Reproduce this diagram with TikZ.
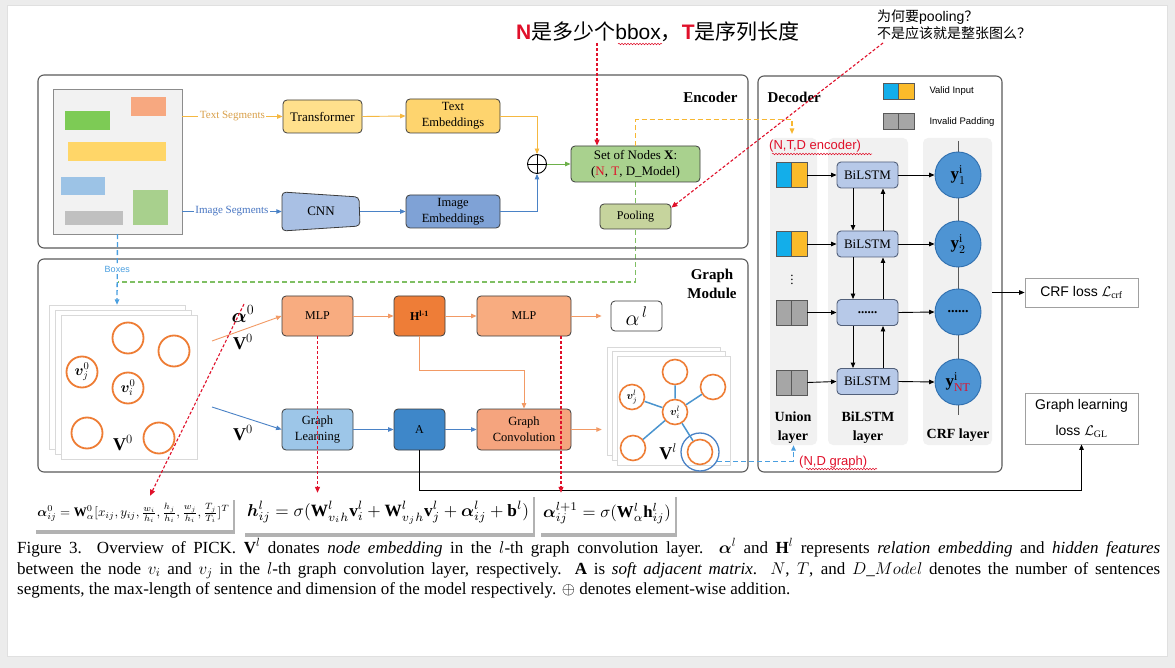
\RequirePackage{fix-cm}
\documentclass[tikz,border=0pt]{standalone}
\usepackage{amsmath,bm}
\usepackage{fontspec}
\setmainfont{Liberation Serif}
\setsansfont{Liberation Sans}
\newfontfamily\cjk{Noto Sans CJK SC}
\usetikzlibrary{arrows.meta,shadows,backgrounds,decorations.pathmorphing}

\definecolor{pageC}{HTML}{ECECEC}
\definecolor{frameC}{HTML}{5A5A5A}
\definecolor{boxB}{HTML}{3C3C3C}
\definecolor{docbg}{HTML}{F2F2F2}
\definecolor{cGreen}{HTML}{7DCB55}
\definecolor{cSalmon}{HTML}{F7A880}
\definecolor{cYellow}{HTML}{FFD668}
\definecolor{cLBlue}{HTML}{9CC3E6}
\definecolor{cGray}{HTML}{C0C0C0}
\definecolor{cLGreen}{HTML}{A8D08D}
\definecolor{transC}{HTML}{FFE08C}
\definecolor{tembC}{HTML}{FED46E}
\definecolor{cnnC}{HTML}{A9C0E4}
\definecolor{iembC}{HTML}{7FA2D6}
\definecolor{setC}{HTML}{A9D18E}
\definecolor{poolC}{HTML}{C6D49D}
\definecolor{lineY}{HTML}{F5B841}
\definecolor{lineB}{HTML}{4A82C6}
\definecolor{lineG}{HTML}{6DB04A}
\definecolor{txtY}{HTML}{D9A04A}
\definecolor{txtB}{HTML}{4775C2}
\definecolor{orC}{HTML}{EE7D35}
\definecolor{orL}{HTML}{F29A65}
\definecolor{mlpC}{HTML}{F8AC80}
\definecolor{hC}{HTML}{EE7D37}
\definecolor{glC}{HTML}{9DC6E8}
\definecolor{aC}{HTML}{3E87C9}
\definecolor{gcC}{HTML}{F5A47E}
\definecolor{gline}{HTML}{4B95CF}
\definecolor{cDashB}{HTML}{4A9FE0}
\definecolor{cDashG}{HTML}{7FBF63}
\definecolor{cDashY}{HTML}{F7B731}
\definecolor{annRed}{HTML}{E0102A}
\definecolor{cyanC}{HTML}{13AEEA}
\definecolor{ambC}{HTML}{FBBB2A}
\definecolor{padC}{HTML}{A6A6A6}
\definecolor{lstmC}{HTML}{B7C9E8}
\definecolor{lstmB}{HTML}{52607A}
\definecolor{colbgC}{HTML}{F1F1F1}
\definecolor{crfC}{HTML}{4E94D3}
\definecolor{crfB}{HTML}{2F6FAF}
\definecolor{lossB}{HTML}{A0A0A0}

\tikzset{
 frame/.style={draw=frameC, line width=1.1pt, rounded corners=6pt, inner sep=0pt},
 bx/.style={draw=boxB, line width=0.8pt, rounded corners=4pt, inner sep=0pt, align=center, font=\fontsize{12.5}{16}\selectfont},
 ocirc/.style={circle, draw=orC, line width=1.8pt, fill=white, minimum size=31pt, inner sep=0pt, font=\fontsize{15}{17}\selectfont},
 scirc/.style={circle, draw=orC, line width=1.6pt, fill=white, minimum size=25pt, inner sep=0pt, font=\fontsize{11}{12}\selectfont},
 sheet/.style={draw=black!15, fill=white, inner sep=0pt},
 half/.style={draw=black!65, line width=0.7pt, inner sep=0pt, minimum width=15.5pt},
 lstm/.style={draw=lstmB, line width=0.9pt, fill=lstmC, rounded corners=4pt, minimum width=61pt, minimum height=26pt, inner sep=0pt, font=\fontsize{13}{15}\selectfont},
 crfc/.style={circle, fill=crfC, draw=crfB, line width=0.9pt, minimum size=46pt, inner sep=0pt, font=\fontsize{17}{19}\selectfont},
 loss/.style={draw=lossB, line width=0.8pt, fill=white, inner sep=0pt, align=center},
 colbg/.style={fill=colbgC, rounded corners=5pt, inner sep=0pt, minimum height=307pt},
 redarrow/.style={draw=annRed, line width=1.1pt, dash pattern=on 3pt off 2pt, -{Triangle[length=6pt,width=5pt]}},
 arr/.style={-{Triangle[length=5.5pt,width=4.5pt]}, line width=0.9pt},
 dashln/.style={line width=1.3pt, dash pattern=on 5pt off 3pt},
 fmbox/.style={fill=white, inner sep=0pt, drop shadow={shadow xshift=1.5pt, shadow yshift=-4pt, opacity=0.3, fill=black}},
 squig/.style={draw=annRed, line width=0.5pt, decorate, decoration={snake, amplitude=0.8pt, segment length=3pt}},
 captxt/.style={anchor=base west, inner sep=0pt, font=\fontsize{17}{21}\selectfont},
}

\begin{document}
\begin{tikzpicture}[x=1pt,y=-1pt]
\useasboundingbox (0,0) rectangle (1175,668);
\begin{scope}[on background layer]
\fill[pageC] (0,0) rectangle (1175,668);
\fill[white] (7,5) rectangle (1167,656);
\draw[black!12] (7,5) rectangle (1167,656);
\end{scope}

% ---------- frames ----------
\node[frame, minimum width=710pt, minimum height=173pt] (enc) at (393,161.5) {};
\node[font=\bfseries\fontsize{15}{17}\selectfont, anchor=east] (enclab) at (741,97) {Encoder};
\node[frame, minimum width=710pt, minimum height=213pt] (gm) at (393,365.5) {};
\node[font=\bfseries\fontsize{15}{19}\selectfont, align=center] (gmlab) at (712,283.5) {Graph\\Module};
\node[frame, minimum width=244pt, minimum height=396pt] (dec) at (880,274) {};
\node[font=\bfseries\fontsize{15}{17}\selectfont, anchor=west] (declab) at (764,97) {Decoder};

% ---------- encoder ----------
\node[draw=black!45, fill=docbg, minimum width=129pt, minimum height=145pt, inner sep=0pt] (doc) at (117.5,161.5) {};
\fill[cGreen] (65,111) rectangle (110,130);
\fill[cSalmon] (131,97) rectangle (166,116);
\fill[cYellow] (68,142) rectangle (166,161);
\fill[cLBlue] (61,177) rectangle (105,195);
\fill[cGray] (65,211) rectangle (123,225);
\fill[cLGreen] (133,190) rectangle (168,225);

\node[bx, fill=transC, minimum width=79pt, minimum height=33pt, font=\fontsize{13}{15}\selectfont] (tr) at (322.5,116.5) {Transformer};
\node[bx, fill=tembC, minimum width=94pt, minimum height=34pt] (tem) at (453,116) {Text\\Embeddings};
\filldraw[fill=cnnC, draw=boxB, line width=0.8pt, rounded corners=4pt] (282,192) -- (359,197) -- (360,226) -- (282,231) -- cycle;
\node[inner sep=0pt, minimum width=78pt, minimum height=39pt, font=\fontsize{13}{15}\selectfont] (cnn) at (321,211.5) {CNN};
\node[bx, fill=iembC, minimum width=94pt, minimum height=33pt] (iem) at (453,211.5) {Image\\Embeddings};
\node[circle, draw=black, line width=0.9pt, minimum size=19pt, inner sep=0pt] (plus) at (537,164) {};
\draw[line width=0.9pt] (plus.north) -- (plus.south) (plus.west) -- (plus.east);
\node[bx, fill=setC, minimum width=129pt, minimum height=36pt, font=\fontsize{13}{16}\selectfont] (setn) at (635.5,164) {Set of Nodes \textbf{X}:\\(\textcolor{annRed}{N}, \textcolor{annRed}{T}, D\_Model)};
\coordinate (gend) at (118,282);
\begin{scope}[on background layer]
\draw[dashln, draw=cDashG] (setn.south) |- (gend);
\end{scope}
\node[bx, fill=poolC, minimum width=71pt, minimum height=25pt, font=\fontsize{12}{14}\selectfont] (pool) at (635.5,216.5) {Pooling};

\draw[arr, draw=lineY] (doc.east |- tr.west) -- node[fill=white, text=txtY, font=\fontsize{11}{13}\selectfont, inner sep=1.5pt] {Text Segments} (tr.west);
\draw[arr, draw=lineB] (doc.east |- cnn.west) -- node[fill=white, text=txtB, font=\fontsize{11}{13}\selectfont, inner sep=1.5pt] {Image Segments} (cnn.west);
\draw[arr, draw=lineY] (tr.east) -- (tem.west);
\draw[arr, draw=lineB] (cnn.east) -- (iem.west);
\draw[arr, draw=lineY] (tem.east) -| (plus.north);
\draw[arr, draw=lineB] (iem.east) -| (plus.south);
\draw[arr, draw=lineG] (plus.east) -- (setn.west);

% ---------- graph module ----------
\node[sheet, minimum width=136pt, minimum height=144pt] (stk3) at (117,377) {};
\node[sheet, minimum width=136pt, minimum height=144pt] (stk2) at (123,382) {};
\node[sheet, minimum width=136pt, minimum height=144pt] (stk1) at (129,387) {};
\draw[arr, dashln, draw=cDashB] (doc.south) -- node[fill=white, text=cDashB, font=\sffamily\fontsize{9}{10}\selectfont, inner sep=1pt] {Boxes} (stk3.north);
\node[ocirc] (c1) at (128,338) {};
\node[ocirc] (c2) at (174,351) {};
\node[ocirc] (vj) at (82,372) {$\bm{v}^0_j$};
\node[ocirc] (vi) at (128,388) {$\bm{v}^0_i$};
\node[ocirc] (c5) at (87,433) {};
\node[ocirc] (c6) at (159,438) {};
\node[font=\fontsize{18}{20}\selectfont] (V0a) at (123,443) {$\mathbf{V}^0$};

\node[font=\fontsize{20}{22}\selectfont] (al0) at (243,314) {$\bm{\alpha}^0$};
\node[font=\fontsize{18}{20}\selectfont] (V0b) at (243,342) {$\mathbf{V}^0$};
\node[font=\fontsize{18}{20}\selectfont] (V0c) at (243,433) {$\mathbf{V}^0$};

\node[bx, fill=mlpC, minimum width=71pt, minimum height=40pt, font=\fontsize{12}{14}\selectfont] (mlp1) at (317.5,316) {MLP};
\node[bx, fill=glC, minimum width=71pt, minimum height=41pt] (gl) at (317.5,429.5) {Graph\\Learning};
\node[bx, fill=hC, minimum width=51pt, minimum height=40pt, font=\fontsize{12}{14}\selectfont] (h) at (419.5,316) {\textbf{H}\textsuperscript{\textbf{l-1}}};
\node[bx, fill=mlpC, minimum width=94pt, minimum height=40pt, font=\fontsize{12}{14}\selectfont] (mlp2) at (524,316) {MLP};
\node[bx, fill=white, minimum width=51pt, minimum height=30pt, font=\fontsize{22}{24}\selectfont] (al) at (636.5,316) {$\alpha^{\,l}$};
\node[bx, fill=aC, minimum width=51pt, minimum height=41pt, font=\fontsize{12}{14}\selectfont] (a) at (419.5,429.5) {A};
\node[bx, fill=gcC, minimum width=94pt, minimum height=41pt] (gc) at (524,429.5) {Graph\\Convolution};

\coordinate (oa) at (212,341);
\coordinate (ba) at (212,407);
\draw[arr, draw=orL] (oa) -- (mlp1.west);
\draw[arr, draw=lineB] (ba) -- (gl.west);
\draw[arr, draw=orL] (mlp1.east) -- (h.west);
\draw[arr, draw=orL] (h.east) -- (mlp2.west);
\draw[arr, draw=orL, shorten >=9pt] (mlp2.east) -- (al.west);
\draw[arr, draw=orL] (h.south) -- ++(0,34) -| (gc.north);
\draw[arr, draw=lineB] (gl.east) -- (a.west);
\draw[arr, draw=lineB] (a.east) -- (gc.west);

\node[sheet, minimum width=113pt, minimum height=108pt] (gs3) at (663.5,401) {};
\node[sheet, minimum width=113pt, minimum height=109pt] (gs2) at (668.5,405.5) {};
\node[sheet, minimum width=113pt, minimum height=109pt] (gs1) at (673.5,410.5) {};
\draw[arr, draw=orL, shorten >=15pt] (gc.east) -- (gc.east -| gs1.west);
\node[scirc] (gt) at (675,372) {};
\node[scirc] (gr) at (713,387) {};
\node[scirc] (gvj) at (632,397) {$\bm{v}^l_j$};
\node[scirc] (gvi) at (675,412) {$\bm{v}^l_i$};
\node[scirc] (gbl) at (633,448) {};
\node[scirc] (gbr) at (700,452) {};
\node[circle, draw=lineB, line width=1.3pt, minimum size=38pt, inner sep=0pt] (ring) at (700,452) {};
\draw[gline, line width=1.5pt] (gvi) -- (gt) (gvi) -- (gr) (gvi) -- (gvj) (gvi) -- (gbl) (gvi) -- (gbr);
\node[font=\fontsize{18}{20}\selectfont] (Vl) at (668,452) {$\mathbf{V}^l$};

% ---------- decoder ----------
\node[half, fill=cyanC, minimum height=16pt] (lv1) at (890.75,91) {};
\node[half, fill=ambC, minimum height=16pt] (lv2) at (906.25,91) {};
\node[half, fill=padC, minimum height=16pt] (li1) at (890.75,121) {};
\node[half, fill=padC, minimum height=16pt] (li2) at (906.25,121) {};
\node[anchor=west, font=\sffamily\fontsize{9.5}{11}\selectfont] (lvt) at (926,91) {Valid Input};
\node[anchor=west, font=\sffamily\fontsize{9.5}{11}\selectfont] (lit) at (926,122) {Invalid Padding};

\node[colbg, minimum width=47pt] (ucol) at (793.5,291.5) {};
\node[colbg, minimum width=80pt] (bcol) at (868,291.5) {};
\node[colbg, minimum width=69pt] (ccol) at (957.5,291.5) {};
\node[anchor=west, text=annRed, font=\sffamily\fontsize{13}{15}\selectfont, inner sep=0pt] (ntdl) at (769,146) {(N,T,D encoder)};
\draw[squig] (772,154) -- (872,154);
\coordinate (ntd) at (792,134);
\draw[arr, dashln, draw=cDashY] (setn.north) -- ++(0,-26) -| (ntd);

\node[half, fill=cyanC, minimum height=25pt] (u1a) at (783.75,175) {};
\node[half, fill=ambC, minimum height=25pt] (u1b) at (799.25,175) {};
\node[half, fill=cyanC, minimum height=25pt] (u2a) at (783.75,244) {};
\node[half, fill=ambC, minimum height=25pt] (u2b) at (799.25,244) {};
\node[font=\fontsize{13}{15}\selectfont] (udots) at (792,277) {$\vdots$};
\node[half, fill=padC, minimum height=25pt] (u3a) at (783.75,312.5) {};
\node[half, fill=padC, minimum height=25pt] (u3b) at (799.25,312.5) {};
\node[half, fill=padC, minimum height=25pt] (u4a) at (783.75,382.5) {};
\node[half, fill=padC, minimum height=25pt] (u4b) at (799.25,382.5) {};

\node[lstm] (b1) at (867.5,175) {BiLSTM};
\node[lstm] (b2) at (867.5,244) {BiLSTM};
\node[lstm] (b3) at (867.5,312.5) {\textbf{......}};
\node[lstm] (b4) at (867.5,381.5) {BiLSTM};

\coordinate (ctop) at (958,141);
\coordinate (cbot) at (958,415);
\draw[black!65, line width=0.9pt] (ctop) -- (cbot);
\node[crfc] (y1) at (958,175) {$\mathbf{y}^{\mathrm{i}}_{1}$};
\node[crfc] (y2) at (958,244) {$\mathbf{y}^{\mathrm{i}}_{2}$};
\node[crfc, font=\fontsize{14}{16}\selectfont] (y3) at (958,312) {\textbf{......}};
\node[crfc] (y4) at (958,382) {$\mathbf{y}^{\mathrm{i}}_{\textcolor{annRed}{\mathrm{NT}}}$};

\draw[arr] (u1b.east) -- (b1.west);
\draw[arr] (u2b.east) -- (b2.west);
\draw[arr] (u3b.east) -- (b3.west);
\draw[arr] (u4b.east) -- (b4.west);
\draw[arr] (b1.east) -- (y1.west);
\draw[arr] (b2.east) -- (y2.west);
\draw[arr] (b3.east) -- (y3.west);
\draw[arr] (b4.east) -- (y4.west);
\draw[arr] ([xshift=-14.5pt]b1.south) -- ([xshift=-14.5pt]b2.north);
\draw[arr] ([xshift=15.5pt]b2.north) -- ([xshift=15.5pt]b1.south);
\draw[arr] ([xshift=-14.5pt]b2.south) -- ([xshift=-14.5pt]b3.north);
\draw[arr] ([xshift=15.5pt]b3.north) -- ([xshift=15.5pt]b2.south);
\draw[arr] ([xshift=-14.5pt]b3.south) -- ([xshift=-14.5pt]b4.north);
\draw[arr] ([xshift=15.5pt]b4.north) -- ([xshift=15.5pt]b3.south);

\node[font=\bfseries\fontsize{14}{19}\selectfont, align=center] (ulab) at (793,427.5) {Union\\layer};
\node[font=\bfseries\fontsize{14}{19}\selectfont, align=center] (blab) at (868,427.5) {BiLSTM\\layer};
\node[font=\bfseries\fontsize{14}{16}\selectfont] (clab) at (958,435) {CRF layer};

\draw[arr, dashln, draw=cDashB] (ring.-28) -| (ucol.south);
\node[anchor=west, text=annRed, font=\sffamily\fontsize{13}{15}\selectfont, inner sep=0pt] (ndg) at (799,462) {(N,D graph)};
\draw[squig] (806,469) -- (877,469);

% ---------- losses ----------
\node[loss, minimum width=113pt, minimum height=29pt, font=\sffamily\fontsize{14}{16}\selectfont] (crfl) at (1081.5,292.5) {CRF loss $\mathcal{L}_{\mathrm{crf}}$};
\node[loss, minimum width=113pt, minimum height=51pt, font=\sffamily\fontsize{14}{26}\selectfont] (gll) at (1081.5,418.5) {Graph learning\\loss $\mathcal{L}_{\mathrm{GL}}$};
\draw[arr] (ccol.east |- crfl.west) -- (crfl.west);
\draw[arr] (a.south) -- ++(0,40) -| (gll.south);

% ---------- formulas ----------
\node[fmbox, minimum width=199pt, minimum height=34pt] (f1) at (133.5,513) {\resizebox{192pt}{!}{$\bm{\alpha}^0_{ij} = \mathbf{W}^0_\alpha[x_{ij}, y_{ij}, \frac{w_i}{h_i}, \frac{h_j}{h_i}, \frac{w_j}{h_i}, \frac{T_j}{T_i}]^T$}};
\node[fmbox, minimum width=290pt, minimum height=40pt] (f2) at (388,513) {\resizebox{282pt}{!}{$\bm{h}^l_{ij} = \sigma(\mathbf{W}^l_{v_ih}\mathbf{v}^l_i + \mathbf{W}^l_{v_jh}\mathbf{v}^l_j + \bm{\alpha}^l_{ij} + \mathbf{b}^l)$}};
\node[fmbox, minimum width=136pt, minimum height=40pt] (f3) at (607,513) {\resizebox{128pt}{!}{$\bm{\alpha}^{l+1}_{ij} = \sigma(\mathbf{W}^l_\alpha \mathbf{h}^l_{ij})$}};

% ---------- annotations ----------
\node[font=\cjk\fontsize{21}{24}\selectfont, anchor=west, inner sep=0pt] (ann1) at (516,32) {\textcolor{annRed}{\sffamily\bfseries N}是多少个{\sffamily bbox}，\textcolor{annRed}{\sffamily\bfseries T}是序列长度};
\draw[squig] (618,44) -- (662,44);
\node[font=\cjk\fontsize{14}{17}\selectfont, anchor=north west, align=left, inner sep=0pt] (ann2) at (877,10) {为何要{\sffamily pooling}？\\不是应该就是整张图么？};

\coordinate (r1) at (597,43);
\draw[redarrow] (r1) -- (r1 |- setn.north);
\coordinate (r2) at (883,43);
\draw[redarrow] (r2) -- ([yshift=-4pt]pool.north east);
\coordinate (r3) at (244,304);
\draw[redarrow] (r3) -- ([xshift=16.5pt]f1.north);
\draw[redarrow] (mlp1.south) -- (mlp1.south |- f2.north);
\coordinate (m2s) at ([xshift=37pt]mlp2.south);
\draw[redarrow] (m2s) -- (m2s |- f3.north);

% ---------- caption ----------
\node[captxt] (cap1) at (17,553) {\makebox[1143pt][s]{Figure 3.\ \ Overview of PICK. $\mathbf{V}^l$ donates \emph{node embedding} in the $l$-th graph convolution layer. $\bm{\alpha}^l$ and $\mathbf{H}^l$ represents \emph{relation embedding} and \emph{hidden features}}};
\node[captxt] (cap2) at (17,574) {\makebox[1143pt][s]{between the node $v_i$ and $v_j$ in the $l$-th graph convolution layer, respectively. $\mathbf{A}$ is \emph{soft adjacent matrix}. $N$, $T$, and $D\_Model$ denotes the number of sentences}};
\node[captxt] (cap3) at (17,594) {segments, the max-length of sentence and dimension of the model respectively. $\oplus$ denotes element-wise addition.};
\end{tikzpicture}
\end{document}
